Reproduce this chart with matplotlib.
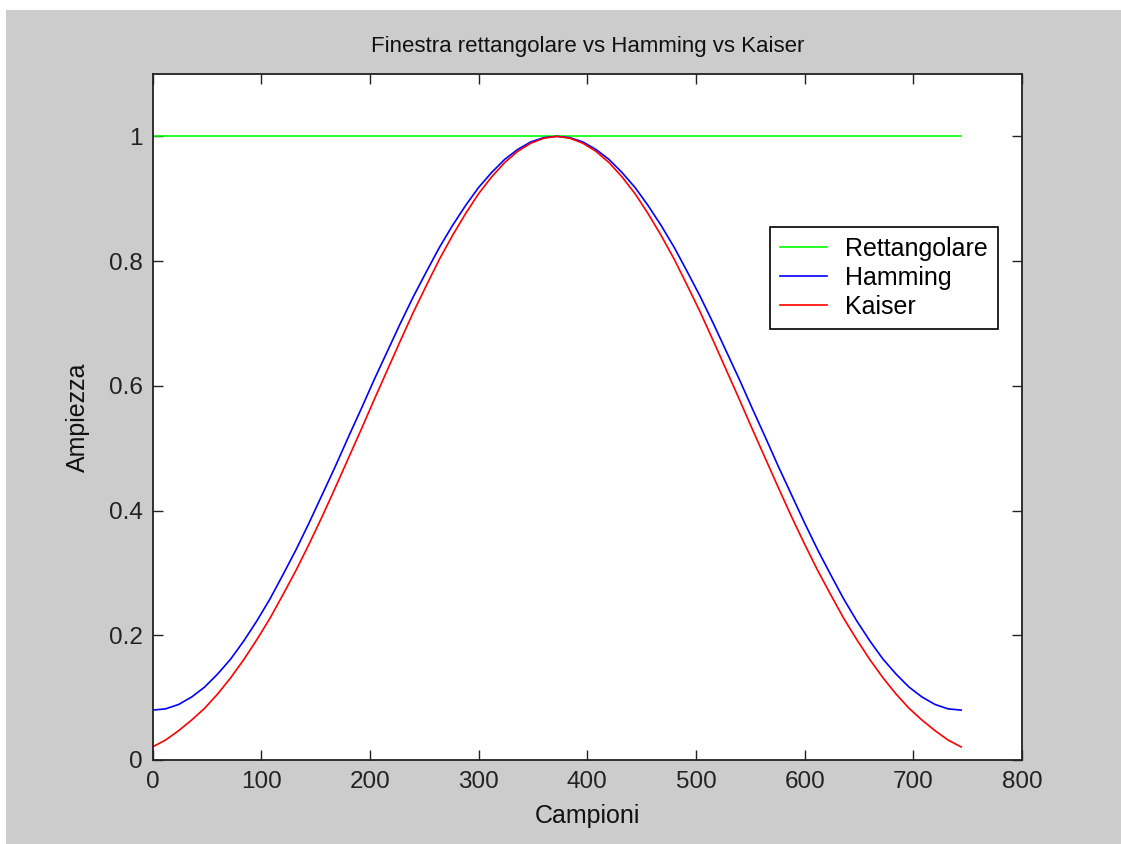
import numpy as np
from matplotlib import pyplot as plt
from matplotlib.patches import Rectangle

# campioni della finestra (uno ogni 12)
campioni = np.arange(0, 745, 12)

rettangolare = [1.0] * len(campioni)

hamming = [0.080, 0.082, 0.089, 0.101, 0.117, 0.138, 0.162, 0.191, 0.223, 0.258,
           0.297, 0.337, 0.380, 0.425, 0.470, 0.517, 0.563, 0.610, 0.655, 0.700,
           0.743, 0.783, 0.822, 0.857, 0.889, 0.918, 0.942, 0.963, 0.979, 0.991,
           0.998, 1.000,
           0.998, 0.991, 0.979, 0.963, 0.942, 0.918, 0.889, 0.857, 0.822, 0.783,
           0.743, 0.700, 0.655, 0.610, 0.563, 0.517, 0.470, 0.425, 0.380, 0.337,
           0.297, 0.258, 0.223, 0.191, 0.162, 0.138, 0.117, 0.101, 0.089, 0.082,
           0.080]

kaiser = [0.021, 0.032, 0.047, 0.064, 0.083, 0.106, 0.132, 0.161, 0.193, 0.227,
          0.265, 0.304, 0.346, 0.390, 0.436, 0.483, 0.530, 0.578, 0.625, 0.672,
          0.718, 0.761, 0.803, 0.841, 0.876, 0.908, 0.935, 0.958, 0.976, 0.989,
          0.997, 1.000,
          0.997, 0.989, 0.976, 0.958, 0.935, 0.908, 0.876, 0.841, 0.803, 0.761,
          0.718, 0.672, 0.625, 0.578, 0.530, 0.483, 0.436, 0.390, 0.346, 0.304,
          0.265, 0.227, 0.193, 0.161, 0.132, 0.106, 0.083, 0.064, 0.047, 0.032,
          0.021]

x_ticks = [0, 100, 200, 300, 400, 500, 600, 700, 800]
y_ticks = [0, 0.2, 0.4, 0.6, 0.8, 1]
y_ticklabels = ['0', '0.2', '0.4', '0.6', '0.8', '1']

plt.rcParams['font.family'] = ['Liberation Sans', 'DejaVu Sans']
title_size = 16
tick_size = 17.5
label_size = 18

fig = plt.figure(figsize=(11.21, 8.44), dpi=100, facecolor='white')
# sfondo grigio stile matlab
fig.patches.append(Rectangle((6 / 1121, 0), 1, 834 / 844, transform=fig.transFigure,
                             facecolor='#cccccc', edgecolor='none', zorder=-1))

ax = fig.add_axes([152.5 / 1121, 84 / 844, 869.5 / 1121, 686 / 844])
ax.set_facecolor('white')

ax.plot(campioni, rettangolare, color=(0, 1, 0), linewidth=1.2, label='Rettangolare')
ax.plot(campioni, hamming, color=(0, 0, 1), linewidth=1.2, label='Hamming')
ax.plot(campioni, kaiser, color=(1, 0, 0), linewidth=1.2, label='Kaiser')

ax.set_xlim(0, 800)
ax.set_ylim(0, 1.1)
ax.set_xticks(x_ticks)
ax.set_yticks(y_ticks)
ax.set_yticklabels(y_ticklabels)
ax.tick_params(axis='both', direction='in', length=7, width=1, top=True, right=True,
               labelsize=tick_size, colors='#222222')
ax.tick_params(axis='x', pad=8)
ax.tick_params(axis='y', pad=7)
for side in ['left', 'right', 'top', 'bottom']:
    ax.spines[side].set_linewidth(1.3)
    ax.spines[side].set_color('#222222')

ax.set_title('Finestra rettangolare vs Hamming vs Kaiser', fontsize=title_size, pad=16,
             color='#111111')
ax.set_xlabel('Campioni', fontsize=label_size, labelpad=8, color='#111111')
ax.set_ylabel('Ampiezza', fontsize=label_size, labelpad=14, color='#111111')

leg = ax.legend(loc='upper right', bbox_to_anchor=(0.9724, 0.777), fontsize=label_size,
                fancybox=False, framealpha=1, edgecolor='black', handlelength=1.85,
                handletextpad=0.75, borderpad=0.4, labelspacing=0.2, borderaxespad=0)
leg.get_frame().set_linewidth(1.2)

plt.savefig('out.png', dpi=100)
